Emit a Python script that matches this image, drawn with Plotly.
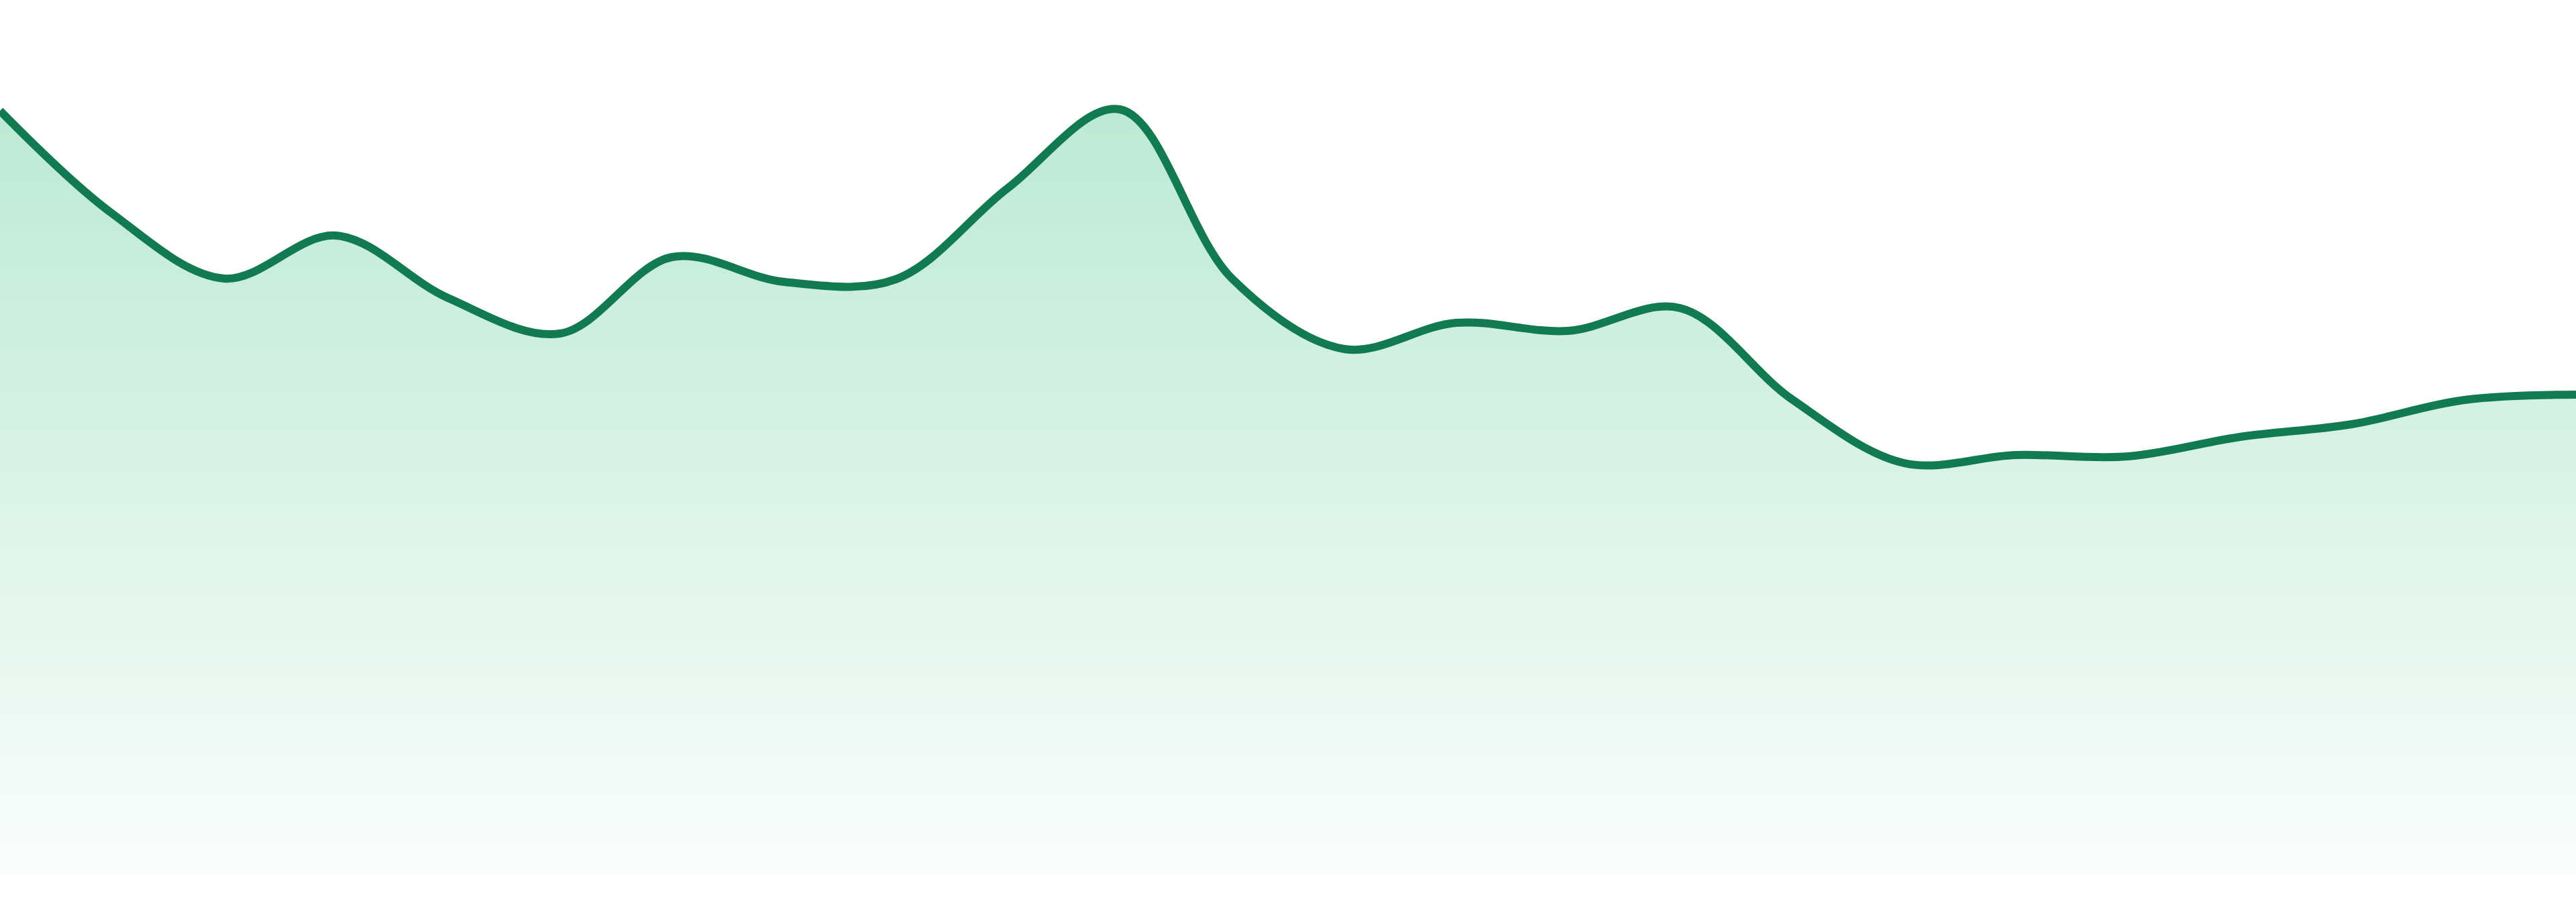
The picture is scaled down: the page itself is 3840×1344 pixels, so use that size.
import plotly.graph_objects as go

# Series values (24 evenly spaced samples)
x_index = list(range(24))
values = [114.0, 98.7, 89.0, 95.4, 86.1, 80.8, 92.2, 88.5, 88.9, 102.5, 114.2, 89.0,
          78.5, 82.4, 81.2, 84.6, 71.0, 61.5, 62.7, 62.5, 65.4, 67.3, 70.9, 71.7]

LINE_COLOR = "#127a50"

fig = go.Figure()
fig.add_trace(go.Scatter(
    x=x_index,
    y=values,
    mode="lines",
    line=dict(color=LINE_COLOR, width=12, shape="spline", smoothing=1.0),
    fill="tozeroy",
    fillgradient=dict(
        type="vertical",
        colorscale=[[0.0, "rgba(38,185,118,0.02)"], [1.0, "rgba(38,185,118,0.31)"]],
    ),
    hoverinfo="skip",
    showlegend=False,
))

fig.update_layout(
    width=3840,
    height=1344,
    margin=dict(l=0, r=0, t=0, b=0, pad=0, autoexpand=False),
    paper_bgcolor="white",
    plot_bgcolor="white",
    showlegend=False,
    xaxis=dict(range=[0, 23], showgrid=False, zeroline=False, showticklabels=False,
               ticks="", showline=False, fixedrange=True),
    yaxis=dict(range=[-3.9, 130.5], showgrid=False, zeroline=False, showticklabels=False,
               ticks="", showline=False, fixedrange=True),
)

fig.write_html(
    "out.html",
    config={"displayModeBar": False, "staticPlot": True},
    post_script="document.body.style.margin='0';document.body.style.overflow='hidden';",
)
